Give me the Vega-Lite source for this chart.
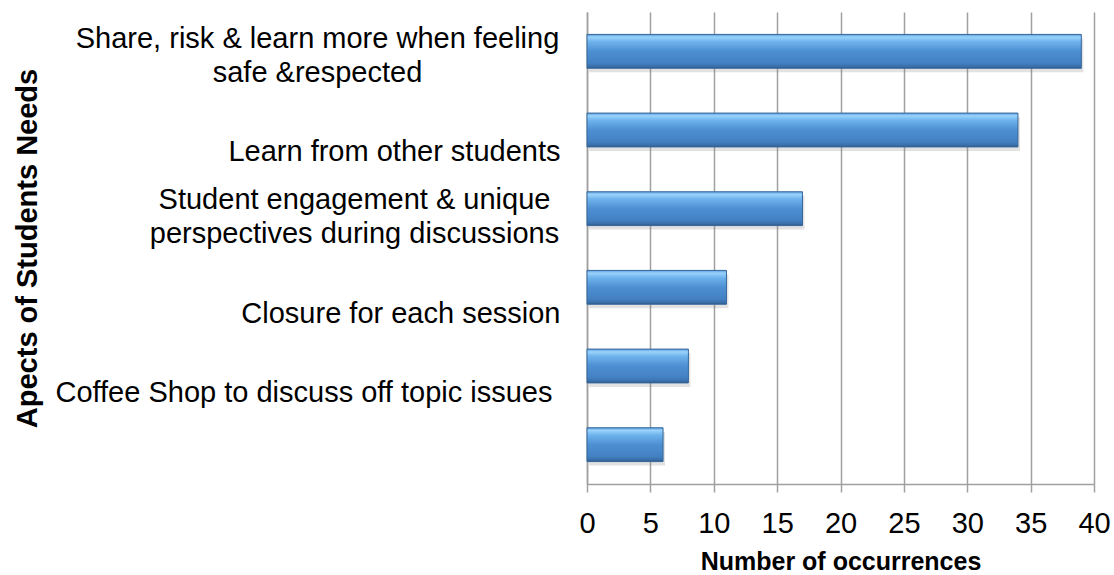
{
  "$schema": "https://vega.github.io/schema/vega-lite/v6.json",
  "width": 507,
  "height": 472,
  "autosize": {"type": "none"},
  "padding": {"left": 587, "top": 12, "right": 20, "bottom": 91},
  "background": "white",
  "config": {"view": {"stroke": null}, "font": "Liberation Sans"},
  "data": {
    "values": [
      {"need": "Share, risk & learn more when feeling|safe &respected", "count": 39},
      {"need": "|Learn from other students", "count": 34},
      {"need": "Student engagement & unique |perspectives during discussions", "count": 17},
      {"need": "|Closure for each session", "count": 11},
      {"need": "|Coffee Shop to discuss off topic issues ", "count": 8},
      {"need": " ", "count": 6}
    ]
  },
  "encoding": {
    "y": {
      "field": "need",
      "type": "nominal",
      "sort": null,
      "scale": {"paddingInner": 0.57, "paddingOuter": 0.285},
      "axis": {
        "title": "Apects of Students Needs",
        "titleFont": "Liberation Sans",
        "titleFontSize": 29,
        "titleFontWeight": "bold",
        "titleColor": "black",
        "titleBaseline": "alphabetic",
        "titleX": -551,
        "labelExpr": "split(datum.value, '|')",
        "labelFont": "Liberation Sans",
        "labelFontSize": 29,
        "labelColor": "black",
        "labelLineHeight": 34,
        "labelLimit": 0,
        "labelBaseline": "middle",
        "labelOffset": {
          "condition": [
            {"test": "indexof(datum.value, 'Student') === 0", "value": -9},
            {"test": "indexof(datum.value, 'Closure') >= 0 || indexof(datum.value, 'Coffee') >= 0", "value": -7}
          ],
          "value": -12
        },
        "labelAlign": {
          "condition": {"test": "indexof(datum.value, 'Share') === 0 || indexof(datum.value, 'Student') === 0", "value": "center"},
          "value": "right"
        },
        "labelPadding": {
          "condition": [
            {"test": "indexof(datum.value, 'Share') === 0", "value": 270},
            {"test": "indexof(datum.value, 'Student') === 0", "value": 233},
            {"test": "indexof(datum.value, 'Coffee') >= 0", "value": 35}
          ],
          "value": 27
        },
        "ticks": false,
        "domainColor": "#a0a0a0",
        "domainWidth": 1.5,
        "grid": false,
        "labelOverlap": false,
        "labelBound": false
      }
    },
    "x": {
      "field": "count",
      "type": "quantitative",
      "scale": {"domain": [0, 40], "nice": false},
      "axis": {
        "values": [0, 5, 10, 15, 20, 25, 30, 35, 40],
        "title": "Number of occurrences",
        "titleFont": "Liberation Sans",
        "titleFontSize": 25,
        "titleFontWeight": "bold",
        "titleColor": "black",
        "titleBaseline": "alphabetic",
        "titleY": 85,
        "labelFont": "Liberation Sans",
        "labelFontSize": 29,
        "labelColor": "black",
        "labelPadding": 17,
        "labelFlush": false,
        "labelOverlap": false,
        "tickSize": 8,
        "tickColor": "#a0a0a0",
        "tickWidth": 1.5,
        "domainColor": "#a0a0a0",
        "domainWidth": 1.5,
        "grid": true,
        "gridColor": "#a0a0a0",
        "gridWidth": 1.5
      }
    }
  },
  "layer": [
    {
      "mark": {"type": "bar", "fill": "#7a7a7a", "opacity": 0.22, "yOffset": 4, "xOffset": 2}
    },
    {
      "mark": {
        "type": "bar",
        "color": {
          "gradient": "linear",
          "x1": 0, "y1": 0, "x2": 0, "y2": 1,
          "stops": [
            {"offset": 0, "color": "#5c9fdc"},
            {"offset": 0.08, "color": "#9ad2fb"},
            {"offset": 0.22, "color": "#6db2ec"},
            {"offset": 0.5, "color": "#4d8fd2"},
            {"offset": 0.85, "color": "#4380c2"},
            {"offset": 0.95, "color": "#3a6ea8"},
            {"offset": 1, "color": "#2b5888"}
          ]
        },
        "stroke": "#35679c",
        "strokeWidth": 1
      }
    }
  ]
}
